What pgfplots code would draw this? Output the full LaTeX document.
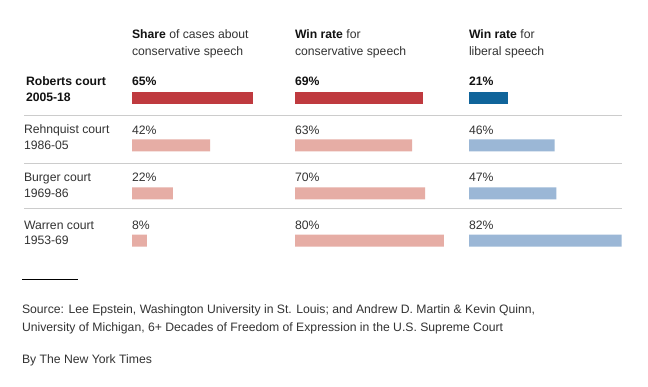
\documentclass[border=0pt]{standalone}
\usepackage{pgfplots}
\pgfplotsset{compat=1.18}
\usepackage{fontspec}
\setmainfont{Liberation Sans}
\definecolor{darkred}{HTML}{BF3A3F}
\definecolor{lightred}{HTML}{E6ADA5}
\definecolor{darkblue}{HTML}{10649A}
\definecolor{lightblue}{HTML}{9BB7D6}
\definecolor{txt}{HTML}{333333}
\definecolor{txtb}{HTML}{121212}
\definecolor{sep}{HTML}{CCCCCC}
\pgfplotsset{
  col/.style={anchor=north west, x=1.86pt, y=1pt, xmin=0, xmax=100, ymin=0, ymax=387,
    y dir=reverse, hide axis, clip=false, xbar, bar width=12pt},
}
\begin{document}
\fontsize{12.2pt}{14pt}\selectfont
\begin{tikzpicture}[every node/.style={inner sep=0pt, outer sep=0pt}]
\fill[white] (0,0) rectangle (648pt,-387pt);
% headers
\node[anchor=base west, text=txt] at (132pt,-38.8pt) {\textbf{\color{txtb}Share} of cases about};
\node[anchor=base west, text=txt] at (132pt,-55.3pt) {conservative speech};
\node[anchor=base west, text=txt] at (295pt,-38.8pt) {\textbf{\color{txtb}Win rate} for};
\node[anchor=base west, text=txt] at (295pt,-55.3pt) {conservative speech};
\node[anchor=base west, text=txt] at (469pt,-38.8pt) {\textbf{\color{txtb}Win rate} for};
\node[anchor=base west, text=txt] at (469pt,-55.3pt) {liberal speech};
% row labels
\node[anchor=base west, text=txtb] at (26pt,-86pt) {\textbf{Roberts court}};
\node[anchor=base west, text=txtb] at (26pt,-102pt) {\textbf{2005-18}};
\node[anchor=base west, text=txt] at (24pt,-134pt) {Rehnquist court};
\node[anchor=base west, text=txt] at (24pt,-150pt) {1986-05};
\node[anchor=base west, text=txt] at (24pt,-181.7pt) {Burger court};
\node[anchor=base west, text=txt] at (24pt,-197.3pt) {1969-86};
\node[anchor=base west, text=txt] at (24pt,-229.3pt) {Warren court};
\node[anchor=base west, text=txt] at (24pt,-245pt) {1953-69};
% separators
\draw[sep, line width=1pt] (24pt,-115.3pt) -- (622pt,-115.3pt);
\draw[sep, line width=1pt] (24pt,-164pt) -- (622pt,-164pt);
\draw[sep, line width=1pt] (24pt,-208.7pt) -- (622pt,-208.7pt);

% column 1: share of cases about conservative speech
\begin{axis}[col, at={(132pt,0pt)}]
\addplot[fill=darkred, draw=none, bar shift=0pt] coordinates {(65,97.5)};
\addplot[fill=lightred, draw=none, bar shift=0pt] coordinates {(42,145.3) (22,193.3) (8,240.7)};
\node[anchor=base west, text=txtb] at (axis cs:0,85) {\textbf{65\%}};
\node[anchor=base west, text=txt] at (axis cs:0,134) {42\%};
\node[anchor=base west, text=txt] at (axis cs:0,181.7) {22\%};
\node[anchor=base west, text=txt] at (axis cs:0,229.3) {8\%};
\end{axis}
% column 2: win rate conservative speech
\begin{axis}[col, at={(295pt,0pt)}]
\addplot[fill=darkred, draw=none, bar shift=0pt] coordinates {(69,97.5)};
\addplot[fill=lightred, draw=none, bar shift=0pt] coordinates {(63,145.3) (70,193.3) (80,240.7)};
\node[anchor=base west, text=txtb] at (axis cs:0,85) {\textbf{69\%}};
\node[anchor=base west, text=txt] at (axis cs:0,134) {63\%};
\node[anchor=base west, text=txt] at (axis cs:0,181.7) {70\%};
\node[anchor=base west, text=txt] at (axis cs:0,229.3) {80\%};
\end{axis}
% column 3: win rate liberal speech
\begin{axis}[col, at={(469pt,0pt)}]
\addplot[fill=darkblue, draw=none, bar shift=0pt] coordinates {(21,97.5)};
\addplot[fill=lightblue, draw=none, bar shift=0pt] coordinates {(46,145.3) (47,193.3) (82,240.7)};
\node[anchor=base west, text=txtb] at (axis cs:0,85) {\textbf{21\%}};
\node[anchor=base west, text=txt] at (axis cs:0,134) {46\%};
\node[anchor=base west, text=txt] at (axis cs:0,181.7) {47\%};
\node[anchor=base west, text=txt] at (axis cs:0,229.3) {82\%};
\end{axis}

% footer
\draw[black, line width=1pt] (22pt,-280pt) -- (78pt,-280pt);
\node[anchor=base west, text=txt] at (22pt,-313.7pt) {Source: Lee Epstein, Washington University in St. Louis; and Andrew D. Martin \& Kevin Quinn,};
\node[anchor=base west, text=txt] at (22pt,-331.3pt) {University of Michigan, 6+ Decades of Freedom of Expression in the U.S. Supreme Court};
\node[anchor=base west, text=txt] at (22pt,-363pt) {By The New York Times};
\pgfresetboundingbox
\path[use as bounding box] (0,0) rectangle (648pt,-387pt);
\end{tikzpicture}
\end{document}
